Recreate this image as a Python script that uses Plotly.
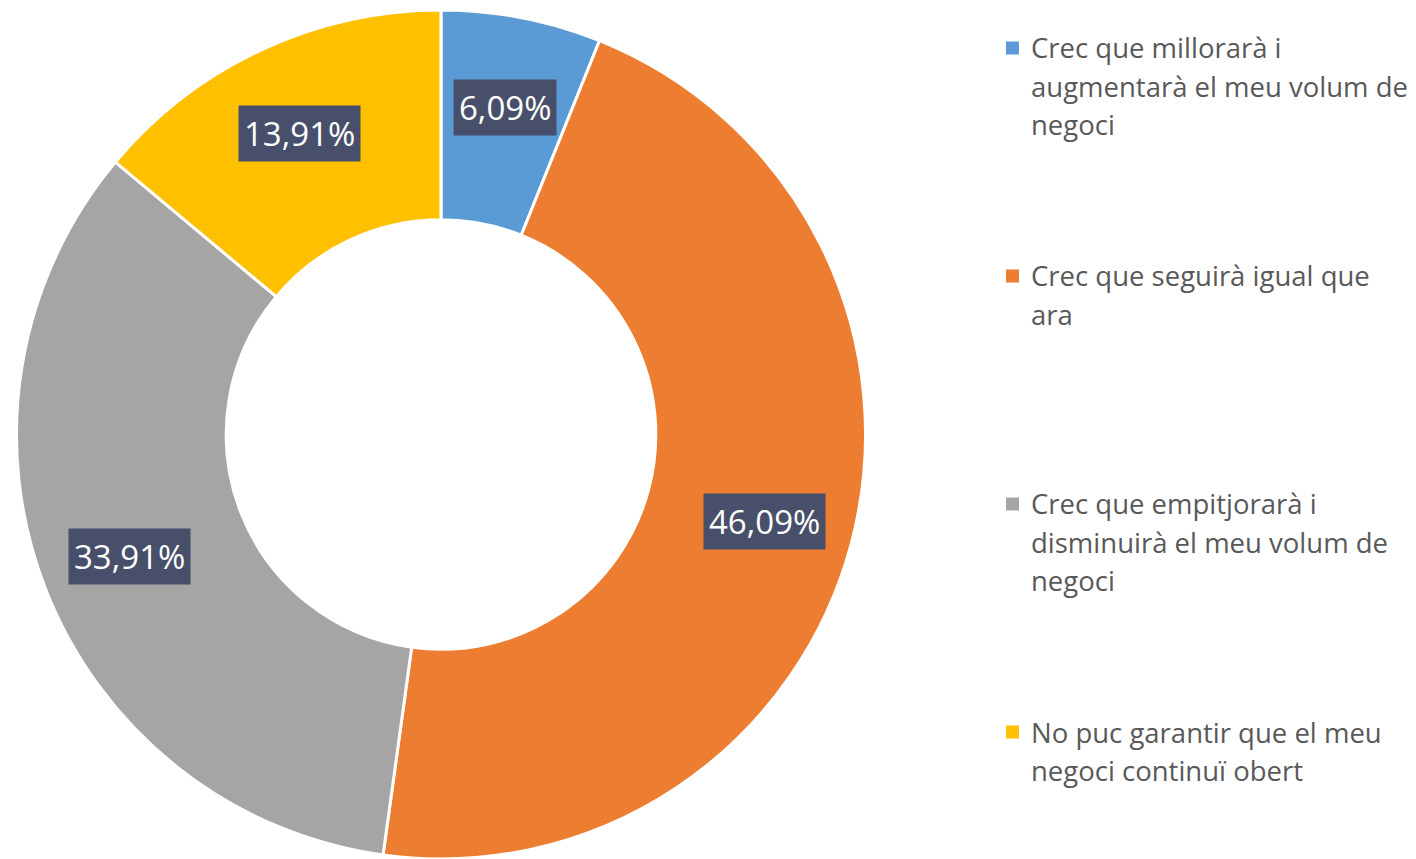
import math
import plotly.graph_objects as go

labels = [
    "Crec que millorarà i augmentarà el meu volum de negoci",
    "Crec que seguirà igual que ara",
    "Crec que empitjorarà i disminuirà el meu volum de negoci",
    "No puc garantir que el meu negoci continuï obert",
]
legend_lines = [
    ["Crec que millorarà i", "augmentarà el meu volum de", "negoci"],
    ["Crec que seguirà igual que", "ara"],
    ["Crec que empitjorarà i", "disminuirà el meu volum de", "negoci"],
    ["No puc garantir que el meu", "negoci continuï obert"],
]
values = [6.09, 46.09, 33.91, 13.91]
value_labels = ["6,09%", "46,09%", "33,91%", "13,91%"]
colors = ["#5B9BD5", "#ED7D31", "#A5A5A5", "#FFC000"]

W, H = 1416, 859
cx, cy, R = 441, 436, 426
hole = 0.506

fig = go.Figure(go.Pie(
    labels=labels,
    values=values,
    hole=hole,
    sort=False,
    direction="clockwise",
    rotation=0,
    marker=dict(colors=colors, line=dict(color="white", width=3)),
    textinfo="none",
    hoverinfo="label+percent",
    showlegend=False,
    domain=dict(x=[(cx - R) / W, (cx + R) / W], y=[max(0, (H - cy - R) / H), min(1, (H - cy + R) / H)]),
))

annotations = []
shapes = []
total = sum(values)
cum = 0.0
r_lab = 0.785 * R
for v, t in zip(values, value_labels):
    mid = (cum + v / 2) / total * 2 * math.pi
    cum += v
    px = cx + r_lab * math.sin(mid)
    py = cy - r_lab * math.cos(mid)
    annotations.append(dict(
        x=px / W, y=1 - py / H, xref="paper", yref="paper",
        text=t, showarrow=False,
        font=dict(family="Open Sans", size=33, color="white"),
        bgcolor="#484F6A", borderpad=5,
        xanchor="center", yanchor="middle",
    ))

# custom legend
leg_x_sq = 1006
leg_x_txt = 1029
leg_y0 = 48
leg_gap = 228
line_h = 38
for i, (lines, c) in enumerate(zip(legend_lines, colors)):
    y = leg_y0 + i * leg_gap
    shapes.append(dict(
        type="rect", xref="paper", yref="paper",
        x0=leg_x_sq / W, x1=(leg_x_sq + 13) / W,
        y0=1 - (y + 6.5) / H, y1=1 - (y - 6.5) / H,
        fillcolor=c, line=dict(width=0),
    ))
    for j, ln in enumerate(lines):
        annotations.append(dict(
            x=leg_x_txt / W, y=1 - (y + j * line_h) / H, xref="paper", yref="paper",
            text=ln, showarrow=False,
            font=dict(family="Open Sans", size=27.5, color="#595959"),
            xanchor="left", yanchor="middle",
        ))

fig.update_layout(
    width=W, height=H,
    margin=dict(l=0, r=0, t=0, b=0),
    paper_bgcolor="white",
    plot_bgcolor="white",
    annotations=annotations,
    shapes=shapes,
)

fig.write_html(
    "out.html",
    config={"displayModeBar": False},
    post_script="document.body.style.margin='0';document.body.style.overflow='hidden';",
)
